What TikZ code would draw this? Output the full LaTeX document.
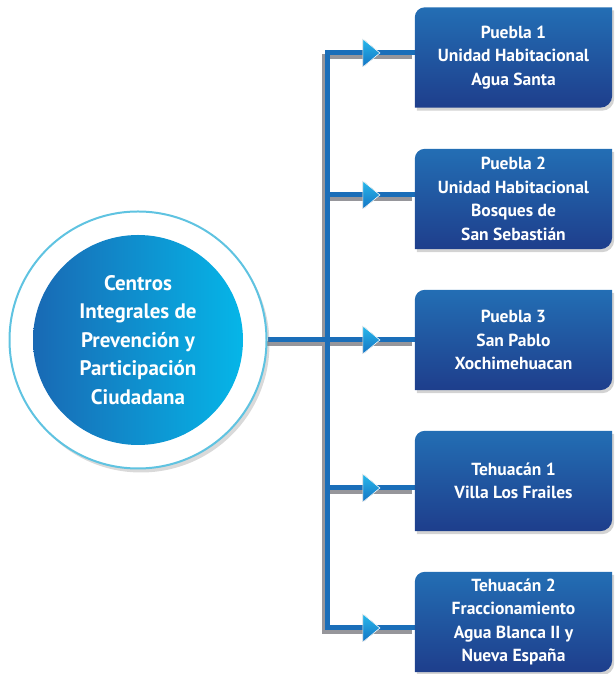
\documentclass[tikz,border=0pt]{standalone}
\usepackage{fontspec}
\setmainfont{PT Sans}
\usetikzlibrary{positioning, shadows, backgrounds}

\definecolor{lineblue}{RGB}{26,110,185}
\definecolor{wiregray}{RGB}{150,150,155}
\definecolor{boxtop}{RGB}{35,110,180}
\definecolor{boxbot}{RGB}{30,62,140}
\definecolor{hubleft}{RGB}{25,105,180}
\definecolor{hubright}{RGB}{5,182,232}
\definecolor{ringcyan}{RGB}{95,195,225}
\definecolor{tiptop}{RGB}{40,185,235}
\definecolor{tipbot}{RGB}{20,115,195}

\begin{document}
\begin{tikzpicture}[x=1pt, y=1pt,
    wire/.style={line width=5pt, draw=lineblue, line join=miter},
    wireshade/.style={line width=5pt, draw=wiregray, line join=miter},
    casebox/.style={text=white, align=center, inner sep=0pt,
      font=\bfseries\fontsize{17.5}{23.5}\selectfont,
      minimum width=197pt, minimum height=100pt},
    casefill/.style={top color=boxtop, bottom color=boxbot,
      drop shadow={opacity=0.35, shadow xshift=2pt, shadow yshift=-3pt}},
    tipfill/.style={top color=tiptop, bottom color=tipbot, draw=white, line width=0.6pt},
  ]
  \useasboundingbox (0,0) rectangle (614,674);

  % hub: white ring with the blue disc inside
  \node[circle, minimum size=257pt, fill=white, draw=ringcyan, line width=2pt,
    drop shadow={opacity=0.3, shadow xshift=3pt, shadow yshift=-4pt}] (ring) at (138,334) {};
  \node[circle, minimum size=210pt, left color=hubleft, right color=hubright,
    text=white, align=center, font=\bfseries\fontsize{21}{28.5}\selectfont] (hub) at (ring.center)
    {Centros\\Integrales de\\Prevención y\\Participación\\Ciudadana};

  % the five centres
  \foreach \n/\y/\txt in {
      1/616.5/{Puebla 1\\Unidad Habitacional\\Agua Santa},
      2/475/{Puebla 2\\Unidad Habitacional\\Bosques de\\San Sebastián},
      3/334/{Puebla 3\\San Pablo\\Xochimehuacan},
      4/193/{Tehuacán 1\\Villa Los Frailes},
      5/52/{Tehuacán 2\\Fraccionamiento\\Agua Blanca II y\\Nueva España}}
    \node[casebox] (b\n) at (513.5,\y) {\txt};

  % junctions on the trunk
  \foreach \n/\y in {1/621, 2/479, 3/334, 4/186, 5/46}
    \coordinate (j\n) at (327,\y);

  \begin{scope}[on background layer]
    % gray shadow under the wires
    \begin{scope}[transform canvas={xshift=-3pt, yshift=-4pt}]
      \draw[wireshade] (j1 -| b1.west) -- (j1) -- (j5) -- (j5 -| b5.west);
      \draw[wireshade] (ring.east) -- (j3);
      \foreach \n in {2,3,4} \draw[wireshade] (j\n) -- (j\n -| b\n.west);
    \end{scope}
    % blue wires
    \draw[wire] (j1 -| b1.west) -- (j1) -- (j5) -- (j5 -| b5.west);
    \draw[wire] (ring.east) -- (j3);
    \foreach \n in {2,3,4} \draw[wire] (j\n) -- (j\n -| b\n.west);
    % arrow marks halfway
    \foreach \n in {1,...,5} {
      \path (j\n) -- coordinate[pos=0.5] (m\n) (j\n -| b\n.west);
      \filldraw[tipfill, shift={(m\n)}] (-8,14) -- (9,0) -- (-8,-14) -- cycle;
    }
    % box bodies
    \foreach \n in {1,...,5}
      \path[casefill] (b\n.south west) -- ([yshift=-10pt]b\n.north west)
        arc[start angle=180, end angle=90, radius=10pt] -- (b\n.north east)
        -- ([yshift=12pt]b\n.south east)
        arc[start angle=0, end angle=-90, radius=12pt] -- cycle;
  \end{scope}
\end{tikzpicture}
\end{document}
